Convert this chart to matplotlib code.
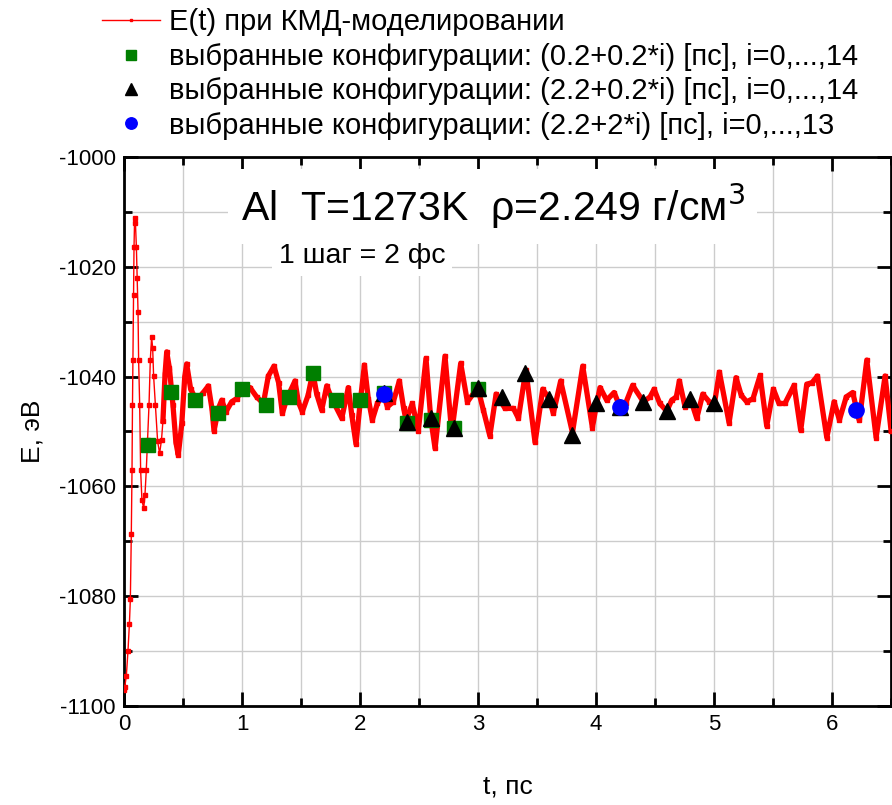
import numpy as np
import matplotlib.pyplot as plt
from matplotlib.ticker import MultipleLocator

plt.rcParams['font.family'] = ['Liberation Sans', 'DejaVu Sans']
plt.rcParams['axes.unicode_minus'] = False

# E(t), ps / eV
t_md = [0.0, 0.006, 0.02, 0.034, 0.046, 0.054, 0.062, 0.068, 0.072, 0.076, 0.081, 0.085,
        0.09, 0.097, 0.105, 0.112, 0.119, 0.124, 0.133, 0.141, 0.152, 0.167, 0.178, 0.189,
        0.2, 0.212, 0.223, 0.234, 0.243, 0.251, 0.266, 0.285, 0.302, 0.318, 0.33, 0.348,
        0.362, 0.385, 0.415, 0.44, 0.46, 0.49, 0.515, 0.531, 0.565, 0.614, 0.672, 0.715,
        0.745, 0.763, 0.8, 0.828, 0.864, 0.912, 0.955, 1.0, 1.068, 1.124, 1.181, 1.223,
        1.271, 1.31, 1.342, 1.38, 1.449, 1.477, 1.511, 1.56, 1.6, 1.633, 1.675, 1.718,
        1.76, 1.845, 1.901, 1.93, 1.966, 2.0, 2.037, 2.07, 2.104, 2.147, 2.198, 2.232,
        2.282, 2.333, 2.37, 2.39, 2.443, 2.494, 2.559, 2.599, 2.636, 2.72, 2.777, 2.853,
        2.91, 2.997, 3.045, 3.1, 3.153, 3.229, 3.3, 3.342, 3.405, 3.483, 3.548, 3.602,
        3.638, 3.7, 3.8, 3.887, 3.969, 4.005, 4.034, 4.09, 4.153, 4.203, 4.25, 4.31,
        4.401, 4.458, 4.492, 4.54, 4.599, 4.641, 4.68, 4.706, 4.754, 4.802, 4.853, 4.904,
        4.96, 5.003, 5.045, 5.127, 5.186, 5.23, 5.277, 5.33, 5.39, 5.446, 5.503, 5.55,
        5.6, 5.678, 5.734, 5.785, 5.83, 5.876, 5.955, 6.017, 6.062, 6.12, 6.175, 6.209,
        6.231, 6.294, 6.373, 6.449, 6.5]
e_md = [-1097.0, -1096.6, -1094.5, -1089.9, -1085.0, -1080.5, -1068.7, -1057.0, -1045.2,
        -1037.0, -1025.2, -1016.4, -1011.2, -1012.0, -1016.4, -1022.0, -1028.2, -1037.0,
        -1045.2, -1057.0, -1062.5, -1064.0, -1061.5, -1057.0, -1051.5, -1045.2, -1037.0,
        -1032.8, -1034.8, -1039.9, -1045.2, -1051.8, -1054.0, -1051.5, -1048.1, -1039.5,
        -1035.5, -1038.5, -1045.2, -1052.0, -1054.3, -1048.5, -1040.0, -1037.7, -1042.3,
        -1044.3, -1042.9, -1041.7, -1045.8, -1049.9, -1045.8, -1044.3, -1046.4, -1044.6,
        -1044.0, -1042.5, -1042.0, -1043.7, -1044.9, -1039.9, -1038.1, -1041.1, -1046.7,
        -1044.0, -1040.8, -1044.6, -1046.4, -1043.4, -1039.2, -1043.2, -1046.1, -1041.7,
        -1044.0, -1047.6, -1042.0, -1047.0, -1052.3, -1045.0, -1037.9, -1044.0, -1047.9,
        -1044.9, -1043.2, -1045.5, -1044.6, -1040.8, -1045.8, -1048.0, -1044.9, -1049.9,
        -1036.7, -1047.6, -1053.1, -1036.3, -1050.2, -1037.6, -1044.6, -1042.0, -1046.1,
        -1050.8, -1043.2, -1045.8, -1045.8, -1047.6, -1038.8, -1052.0, -1042.3, -1044.0,
        -1046.7, -1040.8, -1050.2, -1038.1, -1049.3, -1044.9, -1042.0, -1044.3, -1042.9,
        -1045.5, -1044.9, -1041.6, -1044.6, -1043.7, -1042.3, -1044.9, -1046.3, -1044.3,
        -1043.7, -1040.8, -1045.5, -1044.2, -1047.6, -1043.2, -1044.6, -1044.9, -1039.2,
        -1048.4, -1040.2, -1043.4, -1044.6, -1044.0, -1039.8, -1049.0, -1042.3, -1044.9,
        -1044.9, -1041.6, -1049.8, -1041.4, -1041.1, -1039.9, -1051.1, -1044.6, -1047.9,
        -1043.7, -1042.9, -1046.1, -1048.0, -1037.0, -1051.1, -1039.9, -1049.9]

# выбранные конфигурации
t_sq = [0.2, 0.4, 0.6, 0.8, 1.0, 1.2, 1.4, 1.6, 1.8, 2.0, 2.2, 2.4, 2.6, 2.8, 3.0]
e_sq = [-1052.5, -1042.8, -1044.2, -1046.7, -1042.2, -1045.2, -1043.7, -1039.4,
        -1044.2, -1044.3, -1043.0, -1048.4, -1047.9, -1049.4, -1042.2]
t_tri = [2.2, 2.4, 2.6, 2.8, 3.0, 3.2, 3.4, 3.6, 3.8, 4.0, 4.2, 4.4, 4.6, 4.8, 5.0]
e_tri = [-1043.0, -1048.3, -1047.6, -1049.4, -1042.1, -1043.7, -1039.3, -1044.0,
         -1050.7, -1044.8, -1045.5, -1044.6, -1046.2, -1044.0, -1044.8]
t_circ = [2.2, 4.2, 6.2]
e_circ = [-1043.2, -1045.5, -1046.1]

fig = plt.figure(figsize=(8.92, 8.05), dpi=100)
ax = fig.add_axes([0.139, 0.123, 0.86, 0.682])

t_arr = np.array(t_md)
e_arr = np.array(e_md)
late = t_arr >= 0.33
ax.plot(t_arr[late], e_arr[late], color='red', lw=3.8, solid_joinstyle='round', zorder=3)
ax.plot(t_md, e_md, color='red', lw=1.0, marker='s', ms=2.6, zorder=3,
        label='E(t) при КМД-моделировании')
ax.plot(t_sq, e_sq, ls='none', marker='s', ms=10.5, color='#007f00', zorder=4,
        label='выбранные конфигурации: (0.2+0.2*i) [пс], i=0,...,14')
ax.plot(t_tri, e_tri, ls='none', marker='^', ms=11, color='black', zorder=5,
        label='выбранные конфигурации: (2.2+0.2*i) [пс], i=0,...,14')
ax.plot(t_circ, e_circ, ls='none', marker='o', ms=11, color='blue', zorder=6,
        label='выбранные конфигурации: (2.2+2*i) [пс], i=0,...,13')

ax.set_xlim(0, 6.5)
ax.set_ylim(-1100, -1000)
ax.xaxis.set_major_locator(MultipleLocator(1))
ax.xaxis.set_minor_locator(MultipleLocator(0.5))
ax.yaxis.set_major_locator(MultipleLocator(20))
ax.yaxis.set_minor_locator(MultipleLocator(10))
ax.grid(True, which='both', color='#cccccc', lw=1.0, zorder=0)
ax.set_axisbelow(True)
ax.tick_params(which='both', direction='in', top=True, right=True, width=2, labelsize=16)
ax.tick_params(which='major', length=10, pad=6)
ax.tick_params(which='minor', length=6)
for s in ax.spines.values():
    s.set_linewidth(2)

ax.set_xlabel('t, пс', fontsize=19, labelpad=28)
ax.set_ylabel('E, эВ', fontsize=19, labelpad=10)

ax.text(0.152, 0.91, 'Al  T=1273K  ρ=2.249 г/см$^3$', transform=ax.transAxes,
        fontsize=29.5, ha='left', va='center', zorder=7,
        bbox=dict(facecolor='white', edgecolor='none', pad=9))
ax.text(0.31, 0.82, '1 шаг = 2 фс', transform=ax.transAxes, fontsize=20.5,
        ha='center', va='center', zorder=7,
        bbox=dict(facecolor='white', edgecolor='none', pad=5))

fig.legend(loc='upper left', bbox_to_anchor=(0.101, 1.004), frameon=False,
           fontsize=21, handlelength=2.0, handletextpad=0.3, labelspacing=0.22,
           markerscale=0.75, borderaxespad=0)

fig.savefig('out.png', dpi=100)
